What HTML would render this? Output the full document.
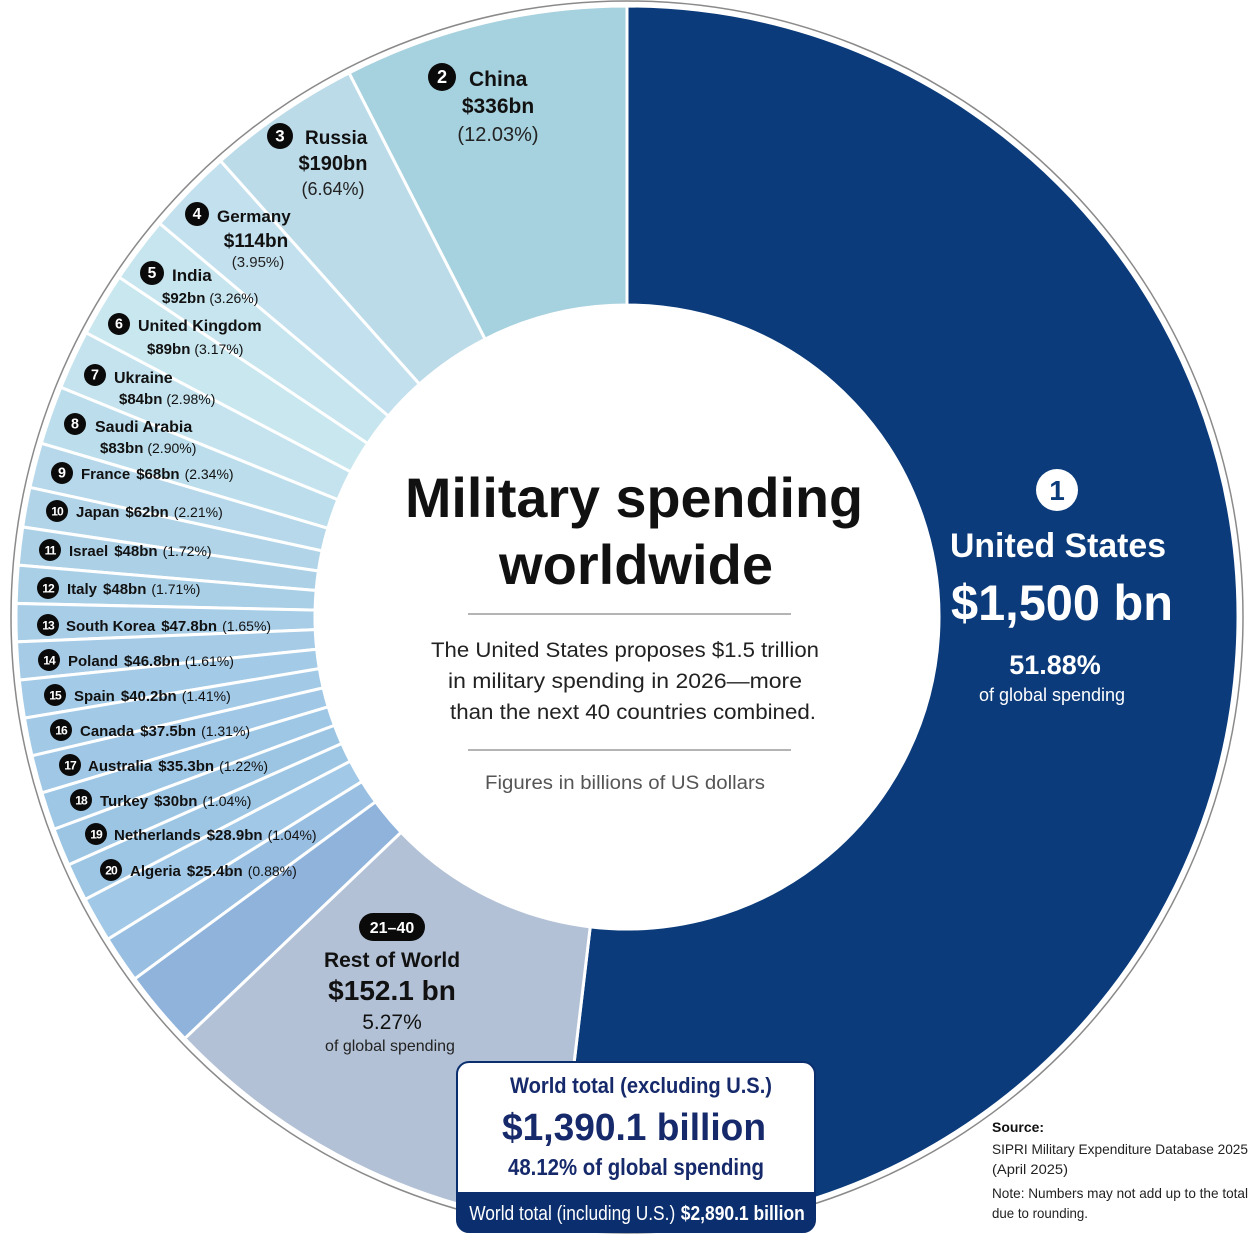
<!DOCTYPE html>
<html><head><meta charset="utf-8">
<style>
html,body{margin:0;padding:0;background:#fff;}
#wrap{position:relative;width:1254px;height:1254px;overflow:hidden;font-family:"Liberation Sans",sans-serif;}
svg{position:absolute;left:0;top:0;}
</style></head>
<body>
<div id="wrap">
<svg id="chart" width="1254" height="1254" viewBox="0 0 1254 1254"></svg>
</div>
<script>
// ---- data ----
const countries = ["China","Russia","Germany","India","United Kingdom","Ukraine","Saudi Arabia","France","Japan","Israel","Italy","South Korea","Poland","Spain","Canada","Australia","Turkey","Netherlands","Algeria"];
const values = [336,190,114,92,89,84,83,68,62,48,48,47.8,46.8,40.2,37.5,35.3,30.0,28.9,25.4];
const shares = [12.03,6.64,3.95,3.26,3.17,2.98,2.90,2.34,2.21,1.72,1.71,1.65,1.61,1.41,1.31,1.22,1.04,1.04,0.88];
const usValue = 1500;
const usShare = 51.88;
const restValue = 152.1;
const restShare = 5.27;
const fillerWeights = [4.3,4.5,7.3];
const colors = ["#a6d1df","#bcdbe9","#c3e0ee","#c7e5ef","#c9e7ef","#c4e3ee","#bcdeec","#b6d8ea","#b1d4e9","#acd1e7","#a9cfe6","#a7cde7","#a5cbe6","#a3cae6","#a2c9e6","#a0c7e5","#9ec6e5","#9cc5e4","#9cc6e4"];
const fillerColors = ["#a1c8e6","#98bfe2","#8fb3db"];

// ---- geometry ----
const cx = 627, cy = 617, rOut = 611, rIn = 312;
const svg = document.getElementById('chart');
const NS = 'http://www.w3.org/2000/svg';
function spanScale(v){ return 3.6 + 0.085 * Math.max(0, v - 60); }
function pt(r, deg){ const a = deg * Math.PI / 180; return [cx + r * Math.sin(a), cy - r * Math.cos(a)]; }
function arcPath(a0, a1){
  const lo = Math.min(a0,a1), hi = Math.max(a0,a1);
  const large = (hi - lo) > 180 ? 1 : 0;
  const p0 = pt(rOut, lo), p1 = pt(rOut, hi), p2 = pt(rIn, hi), p3 = pt(rIn, lo);
  return `M${p0[0]},${p0[1]} A${rOut},${rOut} 0 ${large} 1 ${p1[0]},${p1[1]} L${p2[0]},${p2[1]} A${rIn},${rIn} 0 ${large} 0 ${p3[0]},${p3[1]} Z`;
}
function addSlice(a0, a1, fill, name){
  const p = document.createElementNS(NS, 'path');
  p.setAttribute('d', arcPath(a0, a1));
  p.setAttribute('fill', fill);
  p.setAttribute('stroke', '#fff');
  p.setAttribute('stroke-width', '3');
  
  
  svg.appendChild(p);
}
const ring = document.createElementNS(NS, 'circle');
ring.setAttribute('cx', cx); ring.setAttribute('cy', cy); ring.setAttribute('r', 616);
ring.setAttribute('fill', 'none'); ring.setAttribute('stroke', '#8a8a8a'); ring.setAttribute('stroke-width', '1.5');


svg.appendChild(ring);

const usSpan = 360 * usShare / 100;
addSlice(0, usSpan, '#0b3b7b', 'slice-united-states');
let a = 0;
countries.forEach((c, i) => {
  const s = spanScale(values[i]);
  addSlice(a - s, a, colors[i], 'slice-' + c.toLowerCase().replace(/ /g, '-'));
  a -= s;
});
fillerWeights.forEach((w, i) => {
  addSlice(a - w, a, fillerColors[i], 'slice-other-' + (i + 1));
  a -= w;
});
const restEnd = usSpan - 360;
addSlice(restEnd, a, '#b3c1d6', 'slice-rest-of-world');

const inner = document.createElementNS(NS, 'circle');
inner.setAttribute('cx', cx); inner.setAttribute('cy', cy); inner.setAttribute('r', rIn - 2);
inner.setAttribute('fill', '#fff');


svg.appendChild(inner);

// ---- text helpers ----
function txt(x, y, str, size, weight, fill, anchor, name, len){
  const t = document.createElementNS(NS, 'text');
  t.setAttribute('x', x); t.setAttribute('y', y);
  t.setAttribute('font-size', size); t.setAttribute('font-weight', weight || 'normal');
  t.setAttribute('fill', fill || '#111'); t.setAttribute('text-anchor', anchor || 'start');
  t.setAttribute('font-family', '"Liberation Sans", sans-serif');
  if (len) { t.setAttribute('textLength', len); t.setAttribute('lengthAdjust', 'spacingAndGlyphs'); }
  t.textContent = str;
  
  
  svg.appendChild(t);
  return t;
}
function badge(x, y, r, num, name){
  const c = document.createElementNS(NS, 'circle');
  c.setAttribute('cx', x); c.setAttribute('cy', y); c.setAttribute('r', r); c.setAttribute('fill', '#0a0a0a');
  
  
  svg.appendChild(c);
  const t = txt(x, y + r * 0.42, String(num), r * (num > 9 ? 1.1 : 1.3), 'bold', '#fff', 'middle', name + '-number');
  if (num > 9) t.setAttribute('letter-spacing', '-1');
}
function rowLabel(bx, by, num, name, val, pct, tx){
  badge(bx, by, 11, num, 'rank-badge-' + num);
  const t = document.createElementNS(NS, 'text');
  t.setAttribute('x', tx); t.setAttribute('y', by + 6);
  t.setAttribute('font-family', '"Liberation Sans", sans-serif');
  t.setAttribute('font-size', 15); t.setAttribute('fill', '#111');
  t.innerHTML = `<tspan font-weight="bold">${name}</tspan><tspan font-weight="bold" dx="6">${val}</tspan><tspan dx="5" font-size="14">${pct}</tspan>`;
  
  
  svg.appendChild(t);
}
function fmt(i){ return { v: '$' + values[i] + 'bn', p: '(' + shares[i].toFixed(2) + '%)' }; }

badge(442, 77, 14, 2, 'rank-badge-2');
txt(469, 86, countries[0], 21, 'bold', '#111', 'start', 'label-china-name');
txt(498, 113, fmt(0).v, 21, 'bold', '#111', 'middle', 'label-china-value');
txt(498, 141, fmt(0).p, 20, 'normal', '#222', 'middle', 'label-china-share');
badge(280, 136, 13, 3, 'rank-badge-3');
txt(305, 144, countries[1], 19, 'bold', '#111', 'start', 'label-russia-name');
txt(333, 170, fmt(1).v, 20, 'bold', '#111', 'middle', 'label-russia-value');
txt(333, 195, fmt(1).p, 18, 'normal', '#222', 'middle', 'label-russia-share');
badge(197, 214, 12, 4, 'rank-badge-4');
txt(217, 222, countries[2], 17, 'bold', '#111', 'start', 'label-germany-name');
txt(256, 247, fmt(2).v, 19, 'bold', '#111', 'middle', 'label-germany-value');
txt(258, 267, fmt(2).p, 15, 'normal', '#222', 'middle', 'label-germany-share');
badge(152, 273, 12, 5, 'rank-badge-5');
txt(172, 281, countries[3], 17, 'bold', '#111', 'start', 'label-india-name');
const ind = txt(162, 303, '', 15, 'bold', '#111', 'start', 'label-india-value');
ind.innerHTML = `${fmt(3).v}<tspan font-weight="normal" font-size="14" dx="4">${fmt(3).p}</tspan>`;
badge(119, 324, 11, 6, 'rank-badge-6');
txt(138, 331, countries[4], 16, 'bold', '#111', 'start', 'label-uk-name');
const uk = txt(147, 354, '', 15, 'bold', '#111', 'start', 'label-uk-value');
uk.innerHTML = `${fmt(4).v}<tspan font-weight="normal" font-size="14" dx="4">${fmt(4).p}</tspan>`;
badge(95, 375, 11, 7, 'rank-badge-7');
txt(114, 383, countries[5], 16, 'bold', '#111', 'start', 'label-ukraine-name');
const ua = txt(119, 404, '', 15, 'bold', '#111', 'start', 'label-ukraine-value');
ua.innerHTML = `${fmt(5).v}<tspan font-weight="normal" font-size="14" dx="4">${fmt(5).p}</tspan>`;
badge(75, 424, 11, 8, 'rank-badge-8');
txt(95, 432, countries[6], 16, 'bold', '#111', 'start', 'label-saudi-name');
const sa = txt(100, 453, '', 15, 'bold', '#111', 'start', 'label-saudi-value');
sa.innerHTML = `${fmt(6).v}<tspan font-weight="normal" font-size="14" dx="4">${fmt(6).p}</tspan>`;
const rowPos = [[62,473,81],[57,511,76],[50,550,69],[48,588,67],[48,625,66],[49,660,68],[55,695,74],[61,730,80],[70,765,88],[81,800,100],[96,834,114],[111,870,130]];
for (let i = 7; i < countries.length; i++){
  const rp = rowPos[i - 7];
  const f = fmt(i);
  rowLabel(rp[0], rp[1], i + 2, countries[i], f.v, f.p, rp[2]);
}

const usB = document.createElementNS(NS, 'circle');
usB.setAttribute('cx', 1057); usB.setAttribute('cy', 490); usB.setAttribute('r', 21); usB.setAttribute('fill', '#fff');


svg.appendChild(usB);
txt(1057, 500, '1', 28, 'bold', '#0b3b7b', 'middle', 'rank-badge-1-number');
txt(1058, 557, 'United States', 34, 'bold', '#fff', 'middle', 'label-us-name', 216);
txt(1062, 620, '$' + usValue.toLocaleString('en-US') + ' bn', 50, 'bold', '#fff', 'middle', 'label-us-value', 222);
txt(1055, 674, usShare.toFixed(2) + '%', 27, 'bold', '#fff', 'middle', 'label-us-share');
txt(1052, 701, 'of global spending', 18, 'normal', '#fff', 'middle', 'label-us-share-caption');

const pill = document.createElementNS(NS, 'rect');
pill.setAttribute('x', 359); pill.setAttribute('y', 913); pill.setAttribute('width', 66); pill.setAttribute('height', 28); pill.setAttribute('rx', 14);
pill.setAttribute('fill', '#0a0a0a');


svg.appendChild(pill);
txt(392, 933, '21–40', 16, 'bold', '#fff', 'middle', 'rest-rank-badge-text');
txt(392, 967, 'Rest of World', 21, 'bold', '#111', 'middle', 'label-rest-name');
txt(392, 1000, '$' + restValue + ' bn', 28, 'bold', '#111', 'middle', 'label-rest-value');
txt(392, 1029, restShare.toFixed(2) + '%', 21, 'normal', '#111', 'middle', 'label-rest-share');
txt(390, 1051, 'of global spending', 16, 'normal', '#222', 'middle', 'label-rest-caption');

txt(634, 517, 'Military spending', 56, 'bold', '#111', 'middle', 'chart-title-line1', 458);
txt(636, 584, 'worldwide', 56, 'bold', '#111', 'middle', 'chart-title-line2', 274);
function hline(x1, x2, y, name){
  const l = document.createElementNS(NS, 'line');
  l.setAttribute('x1', x1); l.setAttribute('x2', x2); l.setAttribute('y1', y); l.setAttribute('y2', y);
  l.setAttribute('stroke', '#888'); l.setAttribute('stroke-width', '1.2');
  
  
  svg.appendChild(l);
}
hline(468, 791, 614, 'divider-top');
txt(625, 657, 'The United States proposes $1.5 trillion', 21, 'normal', '#222', 'middle', 'subtitle-line1', 388);
txt(625, 688, 'in military spending in 2026—more', 21, 'normal', '#222', 'middle', 'subtitle-line2', 354);
txt(633, 719, 'than the next 40 countries combined.', 21, 'normal', '#222', 'middle', 'subtitle-line3', 366);
hline(468, 791, 750, 'divider-bottom');
txt(625, 789, 'Figures in billions of US dollars', 19, 'normal', '#555', 'middle', 'units-note', 280);

const box = document.createElementNS(NS, 'rect');
box.setAttribute('x', 457); box.setAttribute('y', 1062); box.setAttribute('width', 358); box.setAttribute('height', 170); box.setAttribute('rx', 12);
box.setAttribute('fill', '#fff'); box.setAttribute('stroke', '#0b2f6e'); box.setAttribute('stroke-width', '2');


svg.appendChild(box);
const band = document.createElementNS(NS, 'path');
band.setAttribute('d', 'M457,1192 H815 V1220 A12,12 0 0 1 803,1232 H469 A12,12 0 0 1 457,1220 Z');
band.setAttribute('fill', '#0b2f6e');


svg.appendChild(band);
const totalEx = 1390.1;
txt(641, 1093, 'World total (excluding U.S.)', 22, 'bold', '#15296b', 'middle', 'world-total-ex-title', 262);
txt(634, 1140, '$' + totalEx.toLocaleString('en-US', {minimumFractionDigits:1}) + ' billion', 38, 'bold', '#15296b', 'middle', 'world-total-ex-value', 264);
txt(636, 1175, (100 - usShare).toFixed(2) + '% of global spending', 23, 'bold', '#15296b', 'middle', 'world-total-ex-share', 256);
const wt = txt(637, 1220, '', 20, 'normal', '#fff', 'middle', 'world-total-incl');
wt.innerHTML = '<tspan textLength="206" lengthAdjust="spacingAndGlyphs">World total (including U.S.)</tspan> <tspan font-weight="bold" textLength="124" lengthAdjust="spacingAndGlyphs">$2,890.1 billion</tspan>';

txt(992, 1132, 'Source:', 14, 'bold', '#111', 'start', 'source-title', 52);
txt(992, 1154, 'SIPRI Military Expenditure Database 2025', 14, 'normal', '#222', 'start', 'source-line1', 256);
txt(992, 1174, '(April 2025)', 14, 'normal', '#222', 'start', 'source-line2', 76);
txt(992, 1198, 'Note: Numbers may not add up to the total', 14, 'normal', '#222', 'start', 'note-line1', 256);
txt(992, 1218, 'due to rounding.', 14, 'normal', '#222', 'start', 'note-line2', 96);
</script>
</body></html>
